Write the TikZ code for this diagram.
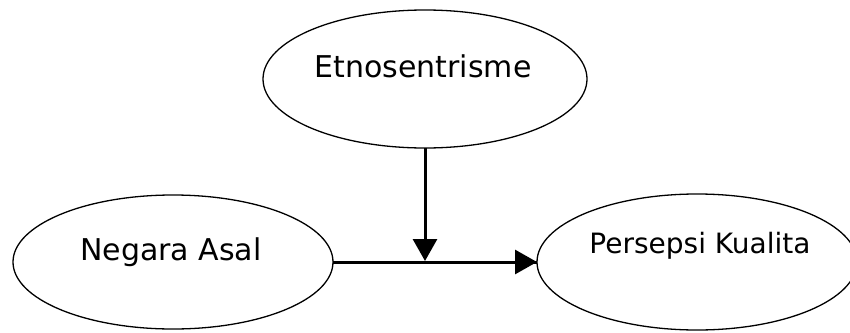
\documentclass[tikz,border=0pt]{standalone}
\usepackage{fontspec}
\setmainfont{DejaVu Sans}
\usetikzlibrary{shapes.geometric,arrows.meta}
\tikzset{
  oval/.style={draw=black, line width=1.3pt, ellipse, inner sep=0pt, outer sep=0pt},
  lbl/.style={anchor=base, inner sep=0pt, font=\fontsize{30}{30}\selectfont},
  conn/.style={line width=3pt, -{Triangle[width=24pt,length=22pt]}}
}
\begin{document}
\begin{tikzpicture}[x=1pt,y=-1pt]
\useasboundingbox (0,0) rectangle (850,332);
\node[oval, minimum width=324pt, minimum height=138pt] (top) at (425,79) {};
\node[oval, minimum width=320pt, minimum height=134pt] (left) at (173,262) {};
\node[oval, minimum width=320pt, minimum height=136pt] (right) at (697,262) {};
\node[lbl] (ttop) at (423,77) {Etnosentrisme};
\node[lbl] (tleft) at (171,260) {Negara Asal};
\node[lbl, font=\fontsize{28}{28}\selectfont] (tright) at (700,253) {Persepsi Kualita};
\coordinate (m) at (425,261);
\draw[line width=3pt] (left.east) -- (right.west);
\draw[conn] (left.east) -- (right.west);
\draw[conn] (top.south) -- (m);
\end{tikzpicture}
\end{document}
